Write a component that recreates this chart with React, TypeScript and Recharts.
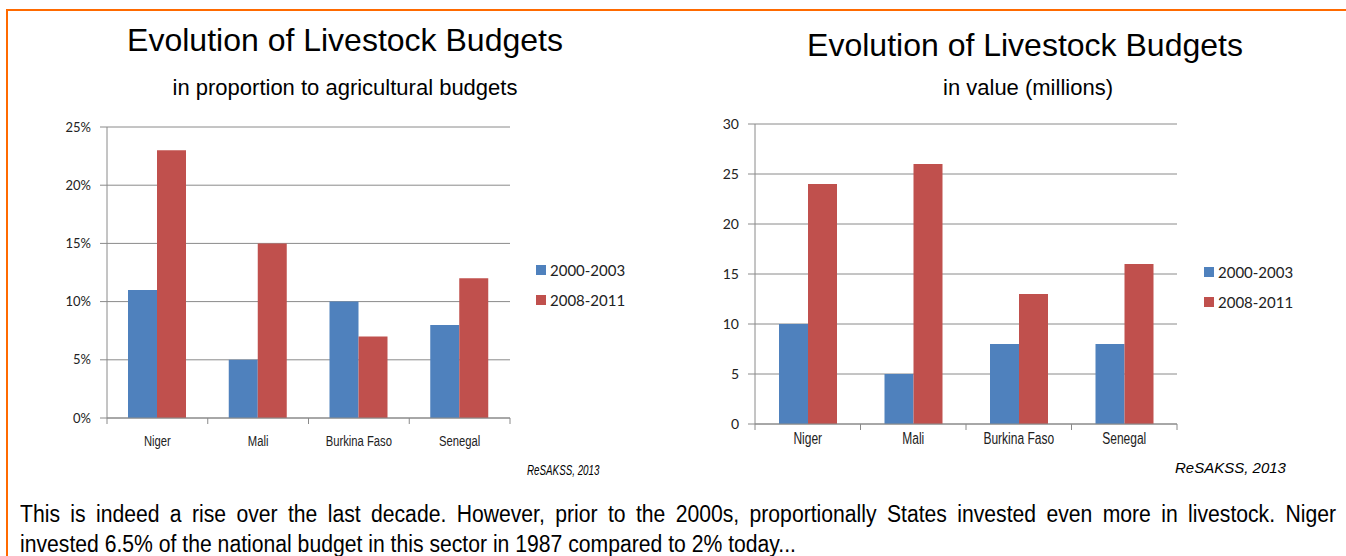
import { BarChart, Bar, XAxis, YAxis, CartesianGrid } from 'recharts';

const categories = ['Niger', 'Mali', 'Burkina Faso', 'Senegal'];
const seriesNames = ['2000-2003', '2008-2011'];
const share2000 = [11, 5, 10, 8];
const share2008 = [23, 15, 7, 12];
const value2000 = [10, 5, 8, 8];
const value2008 = [24, 26, 13, 16];
const shareTicks = [0, 5, 10, 15, 20, 25];
const valueTicks = [0, 5, 10, 15, 20, 25, 30];

const COLORS = ['#4F81BD', '#C0504D'];
const GRID = '#8a8a8a';
const SANS = "'Liberation Sans', Arial, sans-serif";
const TICKFONT = "Lato, 'Open Sans', sans-serif";

const shareData = categories.map((name, i) => ({ name, a: share2000[i], b: share2008[i] }));
const valueData = categories.map((name, i) => ({ name, a: value2000[i], b: value2008[i] }));

// Arial Narrow is not installed, so squeeze Liberation Sans horizontally
function CategoryTick(props: any) {
  const { x, y, payload, index, band, dy, fontSize, count } = props;
  return (
    <g>
      <line x1={x - band / 2} y1={y} x2={x - band / 2} y2={y + 6} stroke={GRID} />
      {index === count - 1 && <line x1={x + band / 2} y1={y} x2={x + band / 2} y2={y + 6} stroke={GRID} />}
      <text
        transform={`translate(${x},${y + dy}) scale(0.75,1)`}
        textAnchor="middle"
        dominantBaseline="central"
        fontFamily={SANS}
        fontSize={fontSize}
        fill="#222"
      >
        {payload.value}
      </text>
    </g>
  );
}

function LegendBox({ left, top }: any) {
  return (
    <div style={{ position: 'absolute', left, top }}>
      {seriesNames.map((name, i) => (
        <div key={name} style={{ display: 'flex', alignItems: 'center', height: 30, fontFamily: TICKFONT, fontSize: 15, color: '#222', whiteSpace: 'nowrap' }}>
          <span style={{ width: 10, height: 10, background: COLORS[i], marginRight: 4, display: 'inline-block' }} />
          {name}
        </div>
      ))}
    </div>
  );
}

function Panel({ data, ticks, fmt, width, margin, yWidth, xHeight, dy, catFont, tickFont }: any) {
  const plotW = width - margin.right - yWidth;
  const band = plotW / categories.length;
  return (
    <BarChart width={width} height={460} data={data} margin={margin} barSize={29} barGap={0}>
      <CartesianGrid vertical={false} stroke={GRID} />
      <XAxis
        dataKey="name"
        height={xHeight}
        stroke={GRID}
        tickLine={false}
        tickSize={0}
        tickMargin={0}
        interval={0}
        tick={<CategoryTick band={band} dy={dy} fontSize={catFont} count={categories.length} />}
      />
      <YAxis
        width={yWidth}
        domain={[0, ticks[ticks.length - 1]]}
        ticks={ticks}
        tickFormatter={fmt}
        stroke={GRID}
        tickSize={7}
        tickMargin={9}
        tick={{ fontFamily: TICKFONT, fontSize: tickFont, fill: '#222' }}
      />
      <Bar dataKey="a" name={seriesNames[0]} fill={COLORS[0]} isAnimationActive={false} />
      <Bar dataKey="b" name={seriesNames[1]} fill={COLORS[1]} isAnimationActive={false} />
    </BarChart>
  );
}

const abs = (s: any) => ({ position: 'absolute' as const, ...s });
const centered = { transform: 'translate(-50%, -50%)', fontFamily: SANS, whiteSpace: 'nowrap' as const };

export default function App() {
  return (
    <div style={{ position: 'absolute', left: 0, top: 0, width: 1346, height: 556, overflow: 'hidden', background: '#fff' }}>
      <div style={abs({ left: 6, top: 9, width: 1400, height: 700, border: '2px solid #FF6A00' })} />

      <div style={abs({ left: 345, top: 40, fontSize: 32, ...centered })}>Evolution of Livestock Budgets</div>
      <div style={abs({ left: 345, top: 88, fontSize: 22, ...centered })}>in proportion to agricultural budgets</div>
      <div style={abs({ left: 1025, top: 45, fontSize: 32, ...centered })}>Evolution of Livestock Budgets</div>
      <div style={abs({ left: 1028, top: 88, fontSize: 22, ...centered })}>in value (millions)</div>

      <div style={abs({ left: 0, top: 0 })}>
        <Panel
          data={shareData}
          ticks={shareTicks}
          fmt={(v: number) => `${v}%`}
          width={700}
          margin={{ top: 127, right: 190, bottom: 0, left: 0 }}
          yWidth={107}
          xHeight={42}
          dy={23}
          catFont={15}
          tickFont={13}
        />
      </div>
      <div style={abs({ left: 660, top: 0 })}>
        <Panel
          data={valueData}
          ticks={valueTicks}
          fmt={(v: number) => `${v}`}
          width={686}
          margin={{ top: 124, right: 169, bottom: 0, left: 0 }}
          yWidth={95}
          xHeight={36}
          dy={14}
          catFont={16}
          tickFont={14}
        />
      </div>
      <LegendBox left={536} top={255} />
      <LegendBox left={1204} top={257} />

      <div style={abs({ left: 527, top: 470, transform: 'translateY(-50%) scaleX(0.7)', transformOrigin: 'left center', fontFamily: SANS, fontStyle: 'italic', fontSize: 14 })}>
        ReSAKSS, 2013
      </div>
      <div style={abs({ left: 1175, top: 467, transform: 'translateY(-50%)', fontFamily: SANS, fontStyle: 'italic', fontSize: 15 })}>
        ReSAKSS, 2013
      </div>

      <div
        style={abs({
          left: 20,
          top: 499,
          width: 1316 / 0.92,
          transform: 'scaleX(0.92)',
          transformOrigin: 'left top',
          fontFamily: SANS,
          fontSize: 23,
          lineHeight: '30px',
          whiteSpace: 'nowrap',
        })}
      >
        <div style={{ textAlign: 'justify', textAlignLast: 'justify', whiteSpace: 'normal' }}>
          This is indeed a rise over the last decade. However, prior to the 2000s, proportionally States invested even more in livestock. Niger
        </div>
        <div>invested 6.5% of the national budget in this sector in 1987 compared to 2% today...</div>
      </div>
    </div>
  );
}
